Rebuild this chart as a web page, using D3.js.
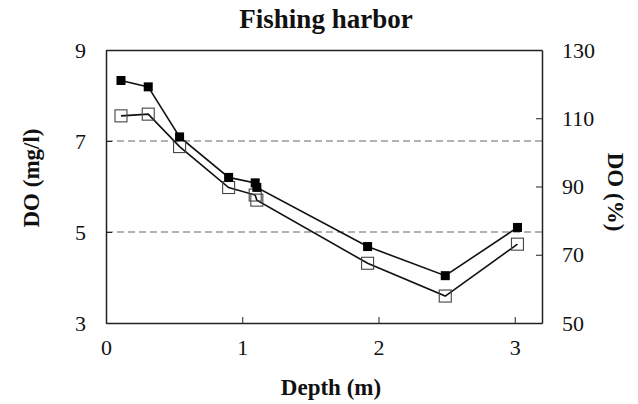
<!DOCTYPE html>
<html><head><meta charset="utf-8">
<script src="https://cdn.jsdelivr.net/npm/d3@7"></script>
<style>body{margin:0;background:#fff}svg{display:block}svg text{font-family:'Liberation Serif','Times New Roman',Times,serif !important;fill:#111}</style>
</head><body><svg id="c" width="638" height="404"></svg>
<script>
const depth = [0.11, 0.31, 0.54, 0.90, 1.095, 1.107, 1.92, 2.49, 3.02];
const doMgL = [8.33, 8.19, 7.09, 6.20, 6.08, 5.98, 4.68, 4.04, 5.10];
const doPct = [110.7, 111.2, 101.7, 89.7, 87.5, 86.0, 67.5, 57.9, 73.1];
const xTicks = [0, 1, 2, 3];
const yLeftTicks = [3, 5, 7, 9];
const yRightTicks = [50, 70, 90, 110, 130];
const refLines = [5, 7];

const svg = d3.select("#c");
const m = {l:106, r:542, t:50, b:323};
const x = d3.scaleLinear().domain([0, 3.2]).range([m.l, m.r]);
const yL = d3.scaleLinear().domain([3, 9]).range([m.b, m.t]);
const yR = d3.scaleLinear().domain([50, 130]).range([m.b, m.t]);

svg.selectAll(".ref").data(refLines).enter().append("line")
  .attr("x1", m.l).attr("x2", m.r).attr("y1", d=>yL(d)).attr("y2", d=>yL(d))
  .attr("stroke", "#666").attr("stroke-width", 1.2).attr("stroke-dasharray", "7,4");

const fs = 22;
const fmt = d3.format("d");
const axB = svg.append("g").attr("transform", `translate(0,${m.b})`)
  .call(d3.axisBottom(x).tickValues(xTicks).tickFormat(fmt).tickSizeInner(-6).tickSizeOuter(0).tickPadding(16));
const axL = svg.append("g").attr("transform", `translate(${m.l},0)`)
  .call(d3.axisLeft(yL).tickValues(yLeftTicks).tickFormat(fmt).tickSizeInner(-6).tickSizeOuter(0).tickPadding(20));
const axR = svg.append("g").attr("transform", `translate(${m.r},0)`)
  .call(d3.axisRight(yR).tickValues(yRightTicks).tickFormat(fmt).tickSizeInner(-6).tickSizeOuter(0).tickPadding(20));
const axT = svg.append("g").attr("transform", `translate(0,${m.t})`)
  .call(d3.axisTop(x).tickValues([]).tickSizeOuter(0));
[axB, axL, axR, axT].forEach(a => {
  a.attr("font-family", null).attr("font-size", null);
  a.selectAll("path").attr("stroke", "#222").attr("stroke-width", 1.5);
  a.selectAll("line").attr("stroke", "#222").attr("stroke-width", 1);
  a.selectAll("text").style("font-size", fs + "px").attr("fill", "#111");
});

const pts = depth.map((d,i)=>({d, mg:doMgL[i], p:doPct[i]}));
const lineMg = d3.line().x(d=>x(d.d)).y(d=>yL(d.mg));
const linePct = d3.line().x(d=>x(d.d)).y(d=>yR(d.p));
svg.append("path").datum(pts).attr("d", linePct).attr("fill","none").attr("stroke","#111").attr("stroke-width",1.6);
svg.append("path").datum(pts).attr("d", lineMg).attr("fill","none").attr("stroke","#111").attr("stroke-width",1.6);

const so = 12, sf = 9;
svg.selectAll(".op").data(pts).enter().append("rect")
  .attr("x", d=>x(d.d)-so/2).attr("y", d=>yR(d.p)-so/2).attr("width", so).attr("height", so)
  .attr("fill","none").attr("stroke","#444").attr("stroke-width",1.1);
svg.selectAll(".fp").data(pts).enter().append("rect")
  .attr("x", d=>x(d.d)-sf/2).attr("y", d=>yL(d.mg)-sf/2).attr("width", sf).attr("height", sf)
  .attr("fill","#000");

svg.append("text").attr("x", 326).attr("y", 28).attr("text-anchor","middle")
  .style("font-size", "27px").attr("font-weight","bold").text("Fishing harbor");
svg.append("text").attr("x", 331).attr("y", 395).attr("text-anchor","middle")
  .style("font-size", "23px").attr("font-weight","bold").text("Depth (m)");
svg.append("text").attr("transform","translate(39,178) rotate(-90)").attr("text-anchor","middle")
  .style("font-size", "23px").attr("font-weight","bold").text("DO (mg/l)");
svg.append("text").attr("transform","translate(608,192) rotate(90)").attr("text-anchor","middle")
  .style("font-size", "23px").attr("font-weight","bold").text("DO (%)");
</script></body></html>
